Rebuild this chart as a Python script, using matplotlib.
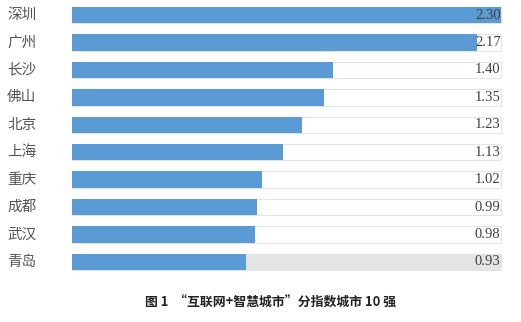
import numpy as np
import matplotlib.pyplot as plt

plt.rcParams['font.family'] = ['Noto Sans CJK SC', 'DejaVu Sans']

cities = ['深圳', '广州', '长沙', '佛山', '北京', '上海', '重庆', '成都', '武汉', '青岛']
scores = [2.30, 2.17, 1.40, 1.35, 1.23, 1.13, 1.02, 0.99, 0.98, 0.93]
track_max = 2.30

fig = plt.figure(figsize=(5.21, 3.22), dpi=100)
ax = fig.add_axes([72 / 521, 1 - 275.7 / 322, 430 / 521, 274.4 / 322])

y = np.arange(len(cities))
# background tracks
for i in y:
    face = '#e4e4e4' if i == len(cities) - 1 else 'white'
    ax.barh(i, track_max, height=0.6, color=face, edgecolor='#e4e4e4', linewidth=0.8, zorder=1)
ax.barh(y, scores, height=0.6, color='#5b9bd5', zorder=2)

for i, v in enumerate(scores):
    ax.text(track_max - 0.005, i, f'{v:.2f}', ha='right', va='center',
            family='Liberation Serif', fontsize=10.5, color='#404040', zorder=3)

ax.set_xlim(0, track_max + 0.003)
ax.set_ylim(len(cities) - 0.5, -0.5)
ax.axis('off')

for i, c in enumerate(cities):
    fig.text(7 / 521, ax.transData.transform((0, i))[1] / 322, c, ha='left', va='center',
             fontsize=10.5, color='#555555', transform=fig.transFigure)

fig.text(271 / 521, 1 - 303 / 322, '图 1  “互联网+智慧城市”分指数城市 10 强',
         ha='center', va='center', fontsize=9.3, weight='bold', color='#222222',
         family=['Noto Sans CJK SC', 'DejaVu Sans'])

fig.savefig('out.png', dpi=100)
